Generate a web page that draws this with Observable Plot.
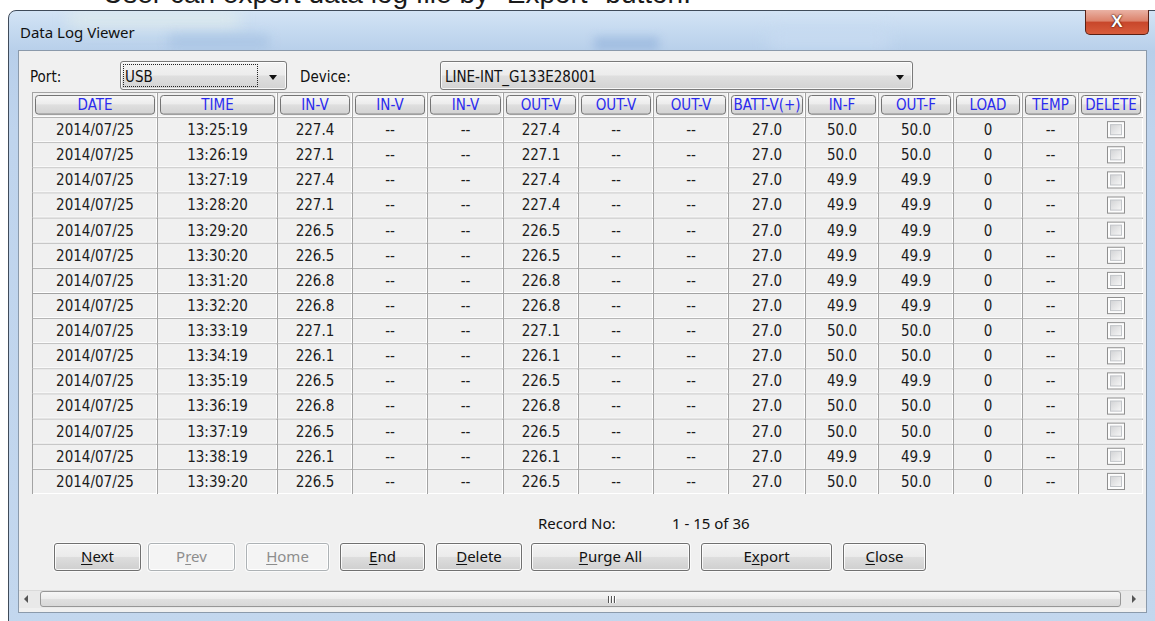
<!DOCTYPE html>
<html><head><meta charset="utf-8">
<script src="https://cdn.jsdelivr.net/npm/d3@7"></script>
<script src="https://cdn.jsdelivr.net/npm/@observablehq/plot@0.6"></script>
<style>
html,body{margin:0;padding:0;}
body{width:1155px;height:621px;overflow:hidden;background:#fff;position:relative;font-family:"Noto Sans","Open Sans",sans-serif;}
.abs{position:absolute;}
.tah{font-family:"DejaVu Sans Condensed","DejaVu Sans",sans-serif;font-stretch:condensed;font-size:15px;color:#111;white-space:nowrap;}
.seg{font-family:"Noto Sans","Open Sans",sans-serif;font-size:15px;color:#111;white-space:nowrap;}
.combo{position:absolute;box-sizing:border-box;border:1px solid #7a7a7a;border-radius:3px;background:linear-gradient(180deg,#f4f4f4 0%,#ececec 48%,#dfdfdf 52%,#d3d3d3 100%);box-shadow:inset 0 0 0 1px rgba(255,255,255,.8);}
.arrow{position:absolute;width:0;height:0;border-left:4.5px solid transparent;border-right:4.5px solid transparent;border-top:5px solid #111;}
.btn{position:absolute;top:543px;height:28px;box-sizing:border-box;border:1px solid #707070;border-radius:3px;background:linear-gradient(180deg,#f3f3f3 0%,#ebebeb 48%,#dddddd 52%,#cfcfcf 100%);box-shadow:inset 0 0 0 1px rgba(255,255,255,.85),0 0 0 1px #fafafa;text-align:center;line-height:25px;font-family:"Noto Sans","Open Sans",sans-serif;font-size:15px;color:#111;}
.btn.dis{border-color:#adb2b5;background:#f4f4f4;color:#8d8d8d;}
.btn u{text-decoration:underline;text-underline-offset:2px;}
</style></head><body>
<div class="abs" style="left:103px;top:-20px;font:28px/28px 'Liberation Sans',Arial,sans-serif;color:#1a1a1a;white-space:nowrap;">User can export data log file by "Export" button.</div>

<div class="abs" style="left:8px;top:10px;width:1170px;height:630px;box-sizing:border-box;border:1px solid #3f4b5a;border-radius:8px 8px 0 0;background:linear-gradient(180deg,#d3e3f5 0,#c3d8ef 22px,#b8cfea 40px,#bfd4ed 120px,#c3d7ee 100%);overflow:hidden">
  <div class="abs" style="left:60px;top:2px;width:170px;height:14px;background:#e6f0ea;filter:blur(8px);opacity:.7"></div>
  <div class="abs" style="left:160px;top:24px;width:100px;height:14px;background:#a6c2e3;filter:blur(6px);opacity:.8"></div>
  <div class="abs" style="left:585px;top:26px;width:65px;height:14px;background:#9bb9df;filter:blur(5px);opacity:.8"></div>
  <div class="abs" style="left:760px;top:20px;width:120px;height:18px;background:#c9dcf2;filter:blur(8px);opacity:.8"></div>
</div>
<div class="abs" style="left:1085px;top:10px;width:64px;height:25px;box-sizing:border-box;border:1px solid #5a2014;border-top:none;border-radius:0 0 5px 5px;background:linear-gradient(180deg,#eab2a4 0%,#dc836c 45%,#c8472b 52%,#d85c3c 100%);text-align:center;font:bold 17px/23px 'Liberation Sans',Arial,sans-serif;color:#fff;text-shadow:0 0 2px #3a0a00,0 0 1px #3a0a00;">X</div>
<div class="abs seg" style="left:20px;top:22px;line-height:20px;">Data Log Viewer</div>

<div class="abs" style="left:18px;top:50px;width:1129px;height:563px;box-sizing:border-box;border:1px solid #8b9aab;background:#f0f0f0;"></div>

<div class="abs tah" style="left:30px;top:68px;line-height:18px;">Port:</div>
<div class="combo" style="left:120px;top:61px;width:167px;height:29px;"></div>
<div class="abs" style="left:123px;top:64px;width:135px;height:23px;box-sizing:border-box;border:1px dotted #222;"></div>
<div class="abs tah" style="left:125px;top:68px;line-height:18px;">USB</div>
<div class="arrow" style="left:269px;top:75px;"></div>
<div class="abs tah" style="left:300px;top:68px;line-height:18px;">Device:</div>
<div class="combo" style="left:440px;top:61px;width:473px;height:29px;"></div>
<div class="abs tah" style="left:445px;top:68px;line-height:18px;">LINE-INT_G133E28001</div>
<div class="arrow" style="left:896px;top:75px;"></div>

<div id="table" class="abs" style="left:32px;top:92px;"></div>

<div class="abs seg" id="recLabel" style="left:538px;top:513px;line-height:20px;">Record No:</div>
<div class="abs seg" id="recRange" style="left:672px;top:513px;line-height:20px;"></div>

<div class="btn" style="left:54px;width:87px;"><u>N</u>ext</div>
<div class="btn dis" style="left:148px;width:87px;">P<u>r</u>ev</div>
<div class="btn dis" style="left:246px;width:83px;"><u>H</u>ome</div>
<div class="btn" style="left:340px;width:85px;"><u>E</u>nd</div>
<div class="btn" style="left:436px;width:86px;"><u>D</u>elete</div>
<div class="btn" style="left:531px;width:159px;"><u>P</u>urge All</div>
<div class="btn" style="left:701px;width:131px;">E<u>x</u>port</div>
<div class="btn" style="left:843px;width:83px;"><u>C</u>lose</div>

<div class="abs" style="left:19px;top:590px;width:1127px;height:18px;box-sizing:border-box;background:#e9e9e9;border-top:1px solid #dadada;"></div>
<div class="abs" style="left:24px;top:595px;width:0;height:0;border-top:4px solid transparent;border-bottom:4px solid transparent;border-right:4px solid #555;"></div>
<div class="abs" style="left:1132px;top:595px;width:0;height:0;border-top:4px solid transparent;border-bottom:4px solid transparent;border-left:4px solid #555;"></div>
<div class="abs" style="left:40px;top:591px;width:1081px;height:16px;box-sizing:border-box;border:1px solid #979797;border-radius:3px;background:linear-gradient(180deg,#f6f6f6 0%,#ececec 48%,#e0e0e0 52%,#d8d8d8 100%);"></div>
<div class="abs" style="left:608px;top:596px;width:1px;height:7px;background:#555;box-shadow:1px 0 0 #fff"></div>
<div class="abs" style="left:611px;top:596px;width:1px;height:7px;background:#555;box-shadow:1px 0 0 #fff"></div>
<div class="abs" style="left:614px;top:596px;width:1px;height:7px;background:#555;box-shadow:1px 0 0 #fff"></div>

<script>
// ---------- data ----------
const columns = ["DATE","TIME","IN-V","IN-V","IN-V","OUT-V","OUT-V","OUT-V","BATT-V(+)","IN-F","OUT-F","LOAD","TEMP","DELETE"];
const dates = ["2014/07/25","2014/07/25","2014/07/25","2014/07/25","2014/07/25","2014/07/25","2014/07/25","2014/07/25","2014/07/25","2014/07/25","2014/07/25","2014/07/25","2014/07/25","2014/07/25","2014/07/25"];
const times = ["13:25:19","13:26:19","13:27:19","13:28:20","13:29:20","13:30:20","13:31:20","13:32:20","13:33:19","13:34:19","13:35:19","13:36:19","13:37:19","13:38:19","13:39:20"];
const inV1 = [227.4,227.1,227.4,227.1,226.5,226.5,226.8,226.8,227.1,226.1,226.5,226.8,226.5,226.1,226.5];
const inV2 = [null,null,null,null,null,null,null,null,null,null,null,null,null,null,null];
const inV3 = [null,null,null,null,null,null,null,null,null,null,null,null,null,null,null];
const outV1 = [227.4,227.1,227.4,227.4,226.5,226.5,226.8,226.8,227.1,226.1,226.5,226.8,226.5,226.1,226.5];
const outV2 = [null,null,null,null,null,null,null,null,null,null,null,null,null,null,null];
const outV3 = [null,null,null,null,null,null,null,null,null,null,null,null,null,null,null];
const battV = [27.0,27.0,27.0,27.0,27.0,27.0,27.0,27.0,27.0,27.0,27.0,27.0,27.0,27.0,27.0];
const inF = [50.0,50.0,49.9,49.9,49.9,49.9,49.9,49.9,50.0,50.0,49.9,50.0,50.0,49.9,50.0];
const outF = [50.0,50.0,49.9,49.9,49.9,49.9,49.9,49.9,50.0,50.0,49.9,50.0,50.0,49.9,50.0];
const load = [0,0,0,0,0,0,0,0,0,0,0,0,0,0,0];
const temp = [null,null,null,null,null,null,null,null,null,null,null,null,null,null,null];
const deleteFlags = [false,false,false,false,false,false,false,false,false,false,false,false,false,false,false];
const recordFirst = 1, recordLast = 15, recordTotal = 36;

// ---------- layout (not data) ----------
const colWidths = [125,120,75,75,76,75,75,75,77,73,75,69,56,65];
const tableHeight = 402;
const cellFont = "DejaVu Sans Condensed, DejaVu Sans, sans-serif";

document.getElementById("recRange").textContent = `${recordFirst} - ${recordLast} of ${recordTotal}`;

const edges = Array.from(d3.cumsum([0, ...colWidths]));
const tableWidth = edges[edges.length - 1];
const f1 = v => v == null ? "--" : v.toFixed(1);
const f0 = v => v == null ? "--" : String(v);
const series = [dates, times, inV1, inV2, inV3, outV1, outV2, outV3, battV, inF, outF, load, temp, deleteFlags];
const formats = [String, String, f1, f1, f1, f1, f1, f1, f1, f1, f1, f0, f1, null];
const rowKeys = ["head", ...times.map((t, i) => "r" + i)];

const headerCells = columns.map((c, j) => ({row: "head", col: j, label: c}));
const bodyCells = [];
times.forEach((t, i) => {
  series.forEach((s, j) => {
    bodyCells.push({row: "r" + i, col: j, label: formats[j] ? formats[j](s[i]) : "", checked: j === 13 ? s[i] : null});
  });
});
const allCells = headerCells.concat(bodyCells);
const textCells = bodyCells.filter(d => d.col !== 13);
const checkCells = bodyCells.filter(d => d.col === 13);
const cx = d => (edges[d.col] + edges[d.col + 1]) / 2;
const x1 = d => edges[d.col], x2 = d => edges[d.col + 1];

const svg = Plot.plot({
  width: tableWidth,
  height: tableHeight,
  margin: 0,
  x: {domain: [0, tableWidth], range: [0, tableWidth], axis: null},
  y: {type: "band", domain: rowKeys, range: [0, tableHeight], padding: 0, round: false, axis: null},
  style: {background: "transparent", overflow: "visible", fontStretch: "condensed"},
  marks: [
    Plot.barX(allCells, {x1, x2, y: "row", fill: "#a3a3a3"}),
    Plot.barX(allCells, {x1, x2, y: "row", fill: "#ffffff", insetLeft: 1, insetTop: 1}),
    Plot.barX(allCells, {x1, x2, y: "row", fill: "#f0f0f0", insetLeft: 1, insetTop: 1, insetRight: 1, insetBottom: 1}),
    Plot.barX(headerCells, {x1, x2, y: "row", fill: "url(#hdrGrad)", stroke: "#747474", insetLeft: 3.5, insetRight: 2.5, insetTop: 3.5, insetBottom: 3, rx: 3}),
    Plot.text(headerCells, {x: cx, y: "row", text: "label", fill: "#2b2bee", fontSize: 15, fontFamily: cellFont}),
    Plot.text(textCells, {x: cx, y: "row", text: "label", fill: "#1c1c1c", fontSize: 15, fontFamily: cellFont}),
    Plot.barX(checkCells, {x1: d => edges[d.col] + 29.5, x2: d => edges[d.col] + 46.5, y: "row", fill: "#fdfdfd", stroke: "#8f8f8f", insetTop: 4.5, insetBottom: 4.5}),
    Plot.barX(checkCells, {x1: d => edges[d.col] + 32.5, x2: d => edges[d.col] + 43.5, y: "row", fill: "url(#chkGrad)", stroke: "#c2c5c9", insetTop: 7.5, insetBottom: 7.5})
  ]
});
svg.insertAdjacentHTML("afterbegin", `<defs>
<linearGradient id="hdrGrad" x1="0" y1="0" x2="0" y2="1">
<stop offset="0" stop-color="#f7f7f7"/><stop offset="0.45" stop-color="#ececec"/><stop offset="0.5" stop-color="#dfdfdf"/><stop offset="1" stop-color="#d2d2d2"/>
</linearGradient>
<linearGradient id="chkGrad" x1="0" y1="0" x2="1" y2="1">
<stop offset="0" stop-color="#d2d3d5"/><stop offset="1" stop-color="#f7f7f7"/>
</linearGradient></defs>`);
document.getElementById("table").appendChild(svg);
</script>
</body></html>
